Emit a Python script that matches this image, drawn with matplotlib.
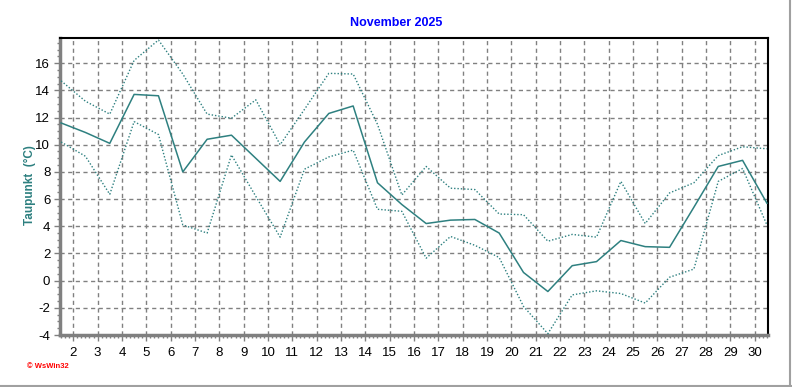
import numpy as np
import matplotlib
matplotlib.use("Agg")
import matplotlib.pyplot as plt
from matplotlib.ticker import MultipleLocator

# Taupunkt November 2025, Werte je Tag (Mitte des Tages)
tage = np.arange(1, 31)
taupunkt_mittel = [11.6, 10.9, 10.1, 13.7, 13.6, 8.0, 10.4, 10.7, 9.0, 7.3,
                   10.2, 12.3, 12.85, 7.2, 5.6, 4.2, 4.45, 4.5, 3.5, 0.6,
                   -0.8, 1.1, 1.4, 2.95, 2.5, 2.45, 5.4, 8.4, 8.85, 5.7]
taupunkt_max = [14.7, 13.2, 12.25, 16.2, 17.7, 15.2, 12.25, 11.95, 13.3, 10.0,
                12.6, 15.25, 15.2, 11.5, 6.3, 8.4, 6.8, 6.7, 4.9, 4.85,
                2.9, 3.4, 3.2, 7.3, 4.2, 6.45, 7.2, 9.2, 9.85, 9.7]
taupunkt_min = [10.2, 9.15, 6.35, 11.7, 10.75, 4.1, 3.5, 9.25, 6.2, 3.2,
                8.2, 9.1, 9.6, 5.25, 5.1, 1.65, 3.25, 2.6, 1.7, -1.9,
                -3.9, -1.05, -0.75, -0.95, -1.65, 0.25, 0.85, 7.3, 8.25, 4.1]
x_labels = list(range(2, 31))
y_ticks = list(range(-4, 17, 2))

farbe = '#2E8080'
plt.rcParams['font.family'] = ['Liberation Sans', 'DejaVu Sans']
plt.rcParams['axes.unicode_minus'] = False

fig = plt.figure(figsize=(7.92, 3.87), dpi=100)
ax = fig.add_axes([60 / 792, 52 / 387, 708 / 792, 297 / 387])

x = tage + 0.5
ax.plot(x, taupunkt_mittel, color=farbe, lw=1.1, zorder=3)
ax.plot(x, taupunkt_max, color=farbe, lw=1.0, ls=(0, (1, 1.4)), zorder=3)
ax.plot(x, taupunkt_min, color=farbe, lw=1.0, ls=(0, (1, 1.4)), zorder=3)

ax.set_xlim(1.455, 30.545)
ax.set_ylim(-4, 17.85)
ax.set_xticks(x_labels)
ax.set_xticklabels([str(t) for t in x_labels])
ax.set_yticks(y_ticks)
ax.xaxis.set_minor_locator(MultipleLocator(1 / 6))
ax.yaxis.set_minor_locator(MultipleLocator(0.5))

ax.grid(True, which='major', color='#808080', ls=(0, (3, 2.5)), lw=1.0)
ax.tick_params(axis='both', which='major', length=4, width=1, color='#808080',
               labelsize=9.5, pad=3)
ax.tick_params(axis='x', which='major', pad=5)
ax.tick_params(axis='both', which='minor', length=2.5, width=1, color='#808080')

for s in ['left', 'bottom']:
    ax.spines[s].set_color('#808080')
    ax.spines[s].set_linewidth(2.5)
for s in ['top', 'right']:
    ax.spines[s].set_color('black')
    ax.spines[s].set_linewidth(1.5)

fig.text(396 / 792, 1 - 23 / 387, 'November 2025', color='#0000FF',
         fontsize=9, fontweight='bold', ha='center', va='center')
fig.text(30 / 792, 1 - 185 / 387, 'Taupunkt  (°C)', color=farbe,
         fontsize=8.5, fontweight='bold', rotation=90, ha='center', va='center')
fig.text(27 / 792, 1 - 367 / 387, '\u00a9 WsWin32', color='red',
         fontsize=5.5, fontweight='bold', ha='left', va='center')

# Fensterrand unten und rechts
fig.add_artist(plt.Line2D([0, 1], [0.6 / 387, 0.6 / 387], color='#A0A0A0', lw=1.5))
fig.add_artist(plt.Line2D([790 / 792, 790 / 792], [0, 1], color='#A0A0A0', lw=1.5))

fig.savefig('out.png', dpi=100, facecolor='white')
